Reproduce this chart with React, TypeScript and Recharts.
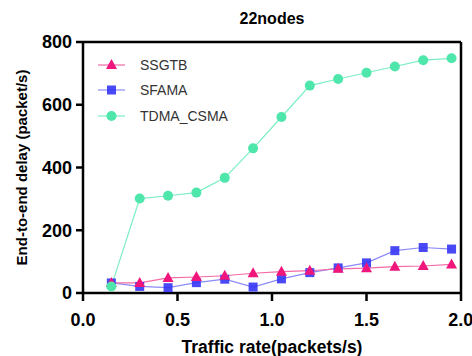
import { LineChart, Line, XAxis, YAxis } from "recharts";

const rates = [0.15, 0.3, 0.45, 0.6, 0.75, 0.9, 1.05, 1.2, 1.35, 1.5, 1.65, 1.8, 1.95];
const ssgtb = [32, 32, 48, 51, 55, 63, 68, 71, 77, 79, 84, 86, 91];
const sfama = [32, 21, 17, 33, 44, 19, 45, 65, 80, 96, 135, 145, 140];
const tdmaCsma = [21, 301, 310, 320, 367, 461, 561, 661, 682, 702, 722, 742, 748];

const xTicks = [0, 0.5, 1, 1.5, 2];
const yTicks = [0, 200, 400, 600, 800];

const data = rates.map((rate, i) => ({
  rate,
  SSGTB: ssgtb[i],
  SFAMA: sfama[i],
  TDMA_CSMA: tdmaCsma[i],
}));

const series = [
  { key: "SSGTB", marker: "#f0167c", line: "#f46aa6", shape: "triangle" },
  { key: "SFAMA", marker: "#3535f5", line: "#8a8af8", shape: "square" },
  { key: "TDMA_CSMA", marker: "#4fe6ac", line: "#7aeec2", shape: "circle" },
];

const FONT = "'Liberation Sans', Arial, sans-serif";

function Marker({ cx, cy, shape, color }: { cx: number; cy: number; shape: string; color: string }) {
  if (shape === "triangle") {
    return <polygon points={`${cx},${cy - 6} ${cx - 5.5},${cy + 4} ${cx + 5.5},${cy + 4}`} fill={color} />;
  }
  if (shape === "square") {
    return <rect x={cx - 4.5} y={cy - 4.5} width={9} height={9} fill={color} fillOpacity={0.9} />;
  }
  return <circle cx={cx} cy={cy} r={5} fill={color} />;
}

function LegendBox() {
  return (
    <div style={{ position: "absolute", left: 98, top: 52, fontFamily: FONT, fontSize: 14, color: "#333" }}>
      {series.map((s) => (
        <div key={s.key} style={{ display: "flex", alignItems: "center", height: 25.5 }}>
          <svg width={30} height={14}>
            <line x1={0} y1={7} x2={27} y2={7} stroke={s.line} strokeWidth={1.2} />
            <Marker cx={13.5} cy={7} shape={s.shape} color={s.marker} />
          </svg>
          <span style={{ marginLeft: 12 }}>{s.key}</span>
        </div>
      ))}
    </div>
  );
}

const drawOrder = ["SFAMA", "SSGTB", "TDMA_CSMA"];

export default function App() {
  const axisStyle = { stroke: "#000", strokeWidth: 2.5 };
  const tickStyle = { fill: "#000", fontSize: 18, fontWeight: 700, fontFamily: FONT };
  return (
    <div style={{ position: "absolute", left: 0, top: 0, width: 472, height: 356, background: "#fff" }}>
      <div
        style={{
          position: "absolute",
          left: 237,
          top: 10,
          width: 70,
          textAlign: "center",
          fontFamily: FONT,
          fontWeight: 700,
          fontSize: 16,
        }}
      >
        22nodes
      </div>
      <LineChart width={472} height={356} data={data} margin={{ top: 42, right: 11, left: 0, bottom: 0 }}>
        <XAxis
          xAxisId="top"
          orientation="top"
          dataKey="rate"
          type="number"
          domain={[0, 2]}
          ticks={xTicks}
          tick={false}
          mirror
          height={1}
          tickSize={8}
          axisLine={axisStyle}
          tickLine={axisStyle}
        />
        <YAxis
          yAxisId="right"
          orientation="right"
          type="number"
          domain={[0, 800]}
          ticks={yTicks}
          tick={false}
          mirror
          width={1}
          tickSize={8}
          axisLine={axisStyle}
          tickLine={axisStyle}
        />
        <XAxis
          dataKey="rate"
          type="number"
          domain={[0, 2]}
          ticks={xTicks}
          tickFormatter={(v: number) => v.toFixed(1)}
          height={63}
          tickSize={8}
          tickMargin={12}
          axisLine={axisStyle}
          tickLine={axisStyle}
          tick={tickStyle}
          label={{
            value: "Traffic rate(packets/s)",
            position: "insideBottom",
            offset: 3,
            style: { fill: "#000", fontSize: 17.5, fontWeight: 700, fontFamily: FONT },
          }}
        />
        <YAxis
          type="number"
          domain={[0, 800]}
          ticks={yTicks}
          width={83}
          tickSize={7}
          tickMargin={4}
          axisLine={axisStyle}
          tickLine={axisStyle}
          tick={tickStyle}
          label={{
            value: "End-to-end delay (packet/s)",
            angle: -90,
            position: "insideLeft",
            offset: 22,
            style: { textAnchor: "middle", fill: "#000", fontSize: 15, fontWeight: 700, fontFamily: FONT },
          }}
        />
        {/* invisible series so the mirrored frame axes get drawn */}
        <Line
          xAxisId="top"
          yAxisId="right"
          dataKey="TDMA_CSMA"
          stroke="none"
          dot={false}
          activeDot={false}
          isAnimationActive={false}
        />
        {drawOrder.map((k) => {
          const s = series.find((x) => x.key === k)!;
          return (
            <Line
              key={s.key}
              dataKey={s.key}
              stroke={s.line}
              strokeWidth={1.2}
              isAnimationActive={false}
              dot={(p: any) => <Marker key={`${s.key}-${p.index}`} cx={p.cx} cy={p.cy} shape={s.shape} color={s.marker} />}
              activeDot={false}
            />
          );
        })}
      </LineChart>
      <LegendBox />
    </div>
  );
}
